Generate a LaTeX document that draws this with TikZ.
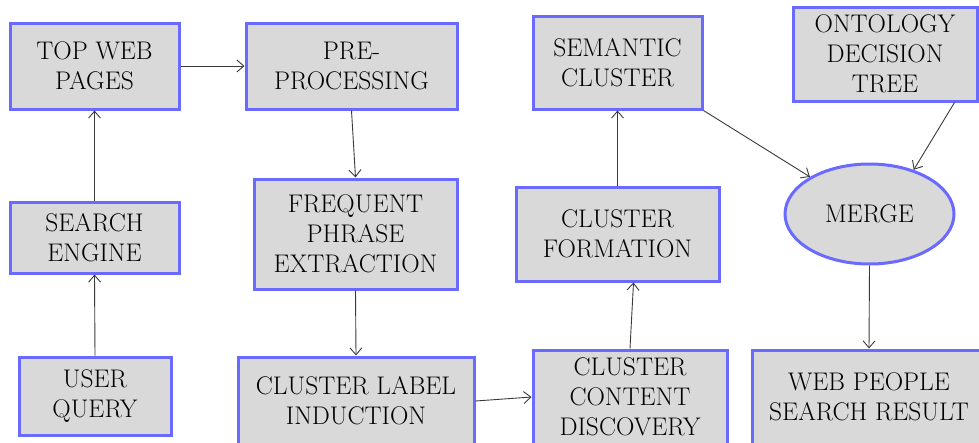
\documentclass[tikz,border=0pt]{standalone}
\usepackage{xcolor}
\usetikzlibrary{arrows.meta,shapes.geometric}
\definecolor{boxline}{HTML}{6A6AFF}
\definecolor{boxfill}{HTML}{D9D9D9}
\definecolor{arrowgray}{HTML}{3A3A3A}

\begin{document}
\begin{tikzpicture}[x=1pt, y=-1pt,
    procbox/.style={draw=boxline, line width=3pt, fill=boxfill, rectangle, inner sep=2pt, align=center, font=\fontsize{25.5}{30}\selectfont},
    mergeoval/.style={draw=boxline, line width=3pt, fill=boxfill, ellipse, inner sep=0pt, align=center, font=\fontsize{25.5}{30}\selectfont},
    flow/.style={->, >={Straight Barb[length=7pt, width=12pt]}, draw=arrowgray, line width=0.9pt}
]
    \useasboundingbox (0,0) rectangle (979,442);
    \clip (0,0) rectangle (979,442);

    \node[procbox, minimum width=169, minimum height=86] (TOP) at (94.5,66) {TOP WEB\\PAGES};
    \node[procbox, minimum width=211, minimum height=86] (PRE) at (351.5,66) {PRE-\\PROCESSING};
    \node[procbox, minimum width=203, minimum height=110] (FPE) at (355.5,234) {FREQUENT\\PHRASE\\EXTRACTION};
    \node[procbox, minimum width=169, minimum height=71] (SE) at (94.5,237.5) {SEARCH\\ENGINE};
    \node[procbox, minimum width=152, minimum height=78] (UQ) at (95,396) {USER\\QUERY};
    \node[procbox, minimum width=236, minimum height=88] (CLI) at (356,401) {CLUSTER LABEL\\INDUCTION};
    \node[procbox, minimum width=169, minimum height=93] (SC) at (617.5,62.5) {SEMANTIC\\CLUSTER};
    \node[procbox, minimum width=184, minimum height=94] (ODT) at (885,54) {ONTOLOGY\\DECISION\\TREE};
    \node[mergeoval, minimum width=169, minimum height=100] (MRG) at (869.5,214) {MERGE};
    \node[procbox, minimum width=203, minimum height=94] (CF) at (617.5,234) {CLUSTER\\FORMATION};
    \node[procbox, minimum width=194, minimum height=94] (CCD) at (630,397) {CLUSTER\\CONTENT\\DISCOVERY};
    \node[procbox, minimum width=234, minimum height=94] (WPS) at (869,397) {WEB PEOPLE\\SEARCH RESULT};

    \draw[flow] (UQ.north) -- (SE.south);
    \draw[flow] (SE.north) -- (TOP.south);
    \draw[flow] (TOP.east) -- (PRE.west);
    \draw[flow] (PRE.south) -- (FPE.north);
    \draw[flow] (FPE.south) -- (CLI.north);
    \draw[flow] (CLI.east) -- (CCD.west);
    \draw[flow] (CCD.north) -- ([xshift=16]CF.south);
    \draw[flow] (CF.north) -- (SC.south);
    \draw[flow] (SC.south east) -- (MRG);
    \draw[flow] ([xshift=-24]ODT.south east) -- (MRG.45);
    \draw[flow] (MRG.south) -- (WPS.north);
\end{tikzpicture}
\end{document}
